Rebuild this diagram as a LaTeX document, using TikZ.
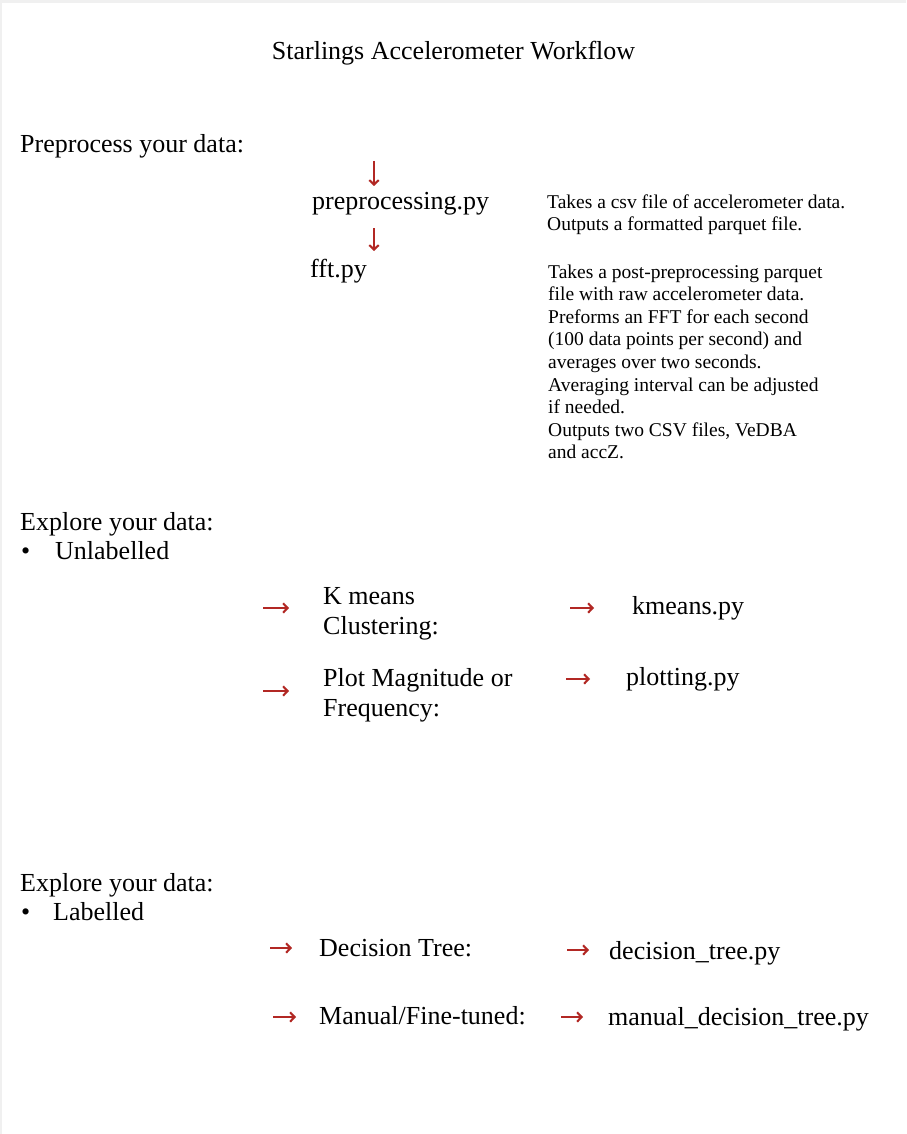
\documentclass[tikz,border=0pt]{standalone}
\usepackage{fontspec}
\setmainfont{Liberation Serif}
\usetikzlibrary{arrows.meta}
\definecolor{arrowred}{RGB}{178,40,36}

\begin{document}
\begin{tikzpicture}[x=1pt,y=-1pt,
    big/.style={anchor=base west,inner sep=0pt,font=\fontsize{26}{30}\selectfont},
    small/.style={anchor=base west,inner sep=0pt,font=\fontsize{19.5}{22.6}\selectfont},
    redarrow/.style={draw=arrowred,line width=2.1pt,-{Straight Barb[length=4.5pt,width=9.5pt]}}]
  \fill[black!6] (0,0) rectangle (906,1134);
  \fill[white] (2,3) rectangle (906,1134);
  \useasboundingbox (0,0) rectangle (906,1134);

  \begin{scope}[yshift=-2pt]
  \node[big,anchor=base] (title) at (453.5,58) {Starlings Accelerometer Workflow};

  % preprocessing
  \node[big] (prep) at (20,151) {Preprocess your data:};
  \node[big] (pre) at (312,207) {preprocessing.py};
  \node[big] (fft) at (310,275) {fft.py};
  \draw[redarrow] ([xshift=62pt,yshift=48pt]pre.base west) -- ([xshift=62pt,yshift=23pt]pre.base west);
  \draw[redarrow] ([xshift=64pt,yshift=49pt]fft.base west) -- ([xshift=64pt,yshift=26pt]fft.base west);

  \node[small] (c1) at (547,206) {Takes a csv file of accelerometer data.};
  \node[small] (c2) at (547,228.6) {Outputs a formatted parquet file.};
  \foreach[count=\i,evaluate={276+22.6*(\i-1)} as \y] \t in {Takes a post-preprocessing parquet,
      file with raw accelerometer data., Preforms an FFT for each second,
      (100 data points per second) and, averages over two seconds.,
      Averaging interval can be adjusted, if needed.,
      {Outputs two CSV files, VeDBA}, and accZ.} {
    \node[small] (d\i) at (548,\y) {\t};
  }

  % unlabelled
  \node[big] (ex1) at (20,528) {Explore your data:};
  \node[big] (b1) at (21,557) {\textbullet};
  \node[big] (unl) at (55,557) {Unlabelled};
  \node[big] (km) at (323,602) {K means};
  \node[big] (km2) at (323,632) {Clustering:};
  \node[big] (pm) at (323,684) {Plot Magnitude or};
  \node[big] (pm2) at (323,714) {Frequency:};
  \node[big] (kmpy) at (632,612) {kmeans.py};
  \node[big] (plpy) at (626,683) {plotting.py};

  % labelled
  \node[big] (ex2) at (20,889) {Explore your data:};
  \node[big] (b2) at (21,918) {\textbullet};
  \node[big] (lab) at (53,918) {Labelled};
  \node[big] (dt) at (319,954) {Decision Tree:};
  \node[big] (mf) at (319,1022) {Manual/Fine-tuned:};
  \node[big] (dtpy) at (609,957) {decision\_tree.py};
  \node[big] (mdpy) at (608,1023) {manual\_decision\_tree.py};

  \foreach \n/\a/\b/\dy in {km/60/34/-4, pm/60/34/-5, kmpy/62/38/6, plpy/60/36/6,
      dt/49/27/8, dtpy/42/20/9, mf/46/23/7, mdpy/47/25/8} {
    \draw[redarrow] ([xshift=-\a pt,yshift=\dy pt]\n.base west) -- ([xshift=-\b pt,yshift=\dy pt]\n.base west);
  }
  \end{scope}
\end{tikzpicture}
\end{document}
